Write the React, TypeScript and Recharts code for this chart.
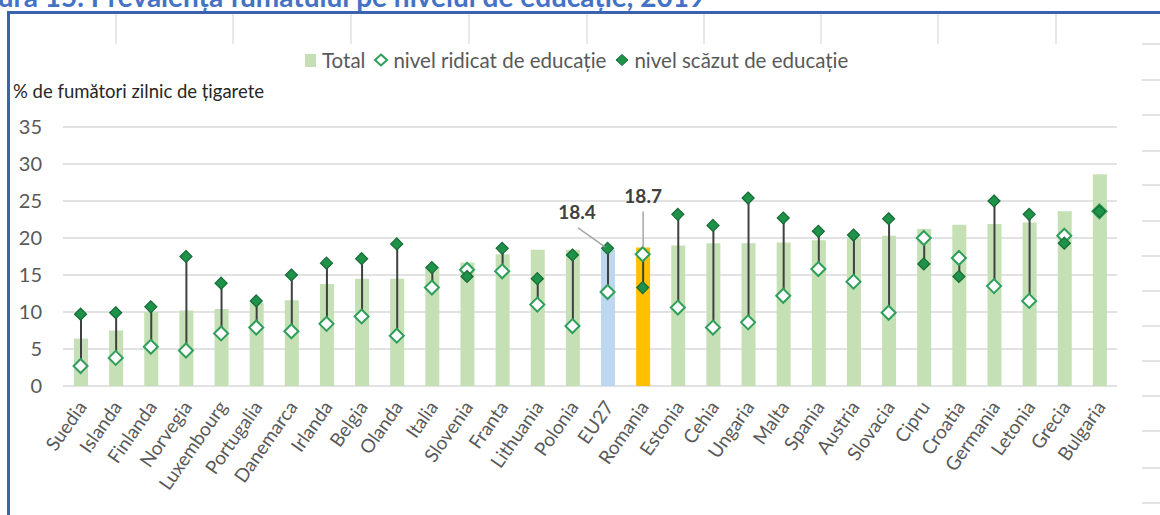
import React from "react";
import {
  ComposedChart,
  Bar,
  Line,
  Cell,
  XAxis,
  YAxis,
  CartesianGrid,
  LabelList,
} from "recharts";

const COUNTRIES = [
  "Suedia", "Islanda", "Finlanda", "Norvegia", "Luxembourg", "Portugalia",
  "Danemarca", "Irlanda", "Belgia", "Olanda", "Italia", "Slovenia", "Franta",
  "Lithuania", "Polonia", "EU27", "Romania", "Estonia", "Cehia", "Ungaria",
  "Malta", "Spania", "Austria", "Slovacia", "Cipru", "Croatia", "Germania",
  "Letonia", "Grecia", "Bulgaria",
];

const TOTAL = [
  6.4, 7.5, 10.0, 10.2, 10.4, 11.2, 11.6, 13.8, 14.5, 14.5, 16.1, 16.7, 17.8,
  18.4, 18.4, 18.4, 18.7, 19.0, 19.3, 19.3, 19.4, 19.7, 20.1, 20.3, 21.2, 21.8,
  21.9, 22.1, 23.6, 28.6,
];

// nivel ridicat de educatie (hollow diamonds)
const HIGH_EDU = [
  2.7, 3.8, 5.3, 4.8, 7.1, 7.9, 7.4, 8.4, 9.4, 6.8, 13.3, 15.7, 15.5, 11.0,
  8.1, 12.7, 17.8, 10.6, 7.9, 8.6, 12.2, 15.8, 14.1, 9.9, 20.0, 17.3, 13.5,
  11.5, 20.3, 23.6,
];

// nivel scazut de educatie (filled diamonds)
const LOW_EDU = [
  9.7, 9.9, 10.7, 17.5, 13.9, 11.5, 15.0, 16.6, 17.2, 19.2, 16.0, 14.8, 18.6,
  14.5, 17.7, 18.6, 13.3, 23.2, 21.7, 25.4, 22.7, 20.9, 20.4, 22.6, 16.5, 14.8,
  25.0, 23.2, 19.3, 23.6,
];

const Y_TICKS = [0, 5, 10, 15, 20, 25, 30, 35];

const data = COUNTRIES.map((name, i) => ({
  name,
  total: TOTAL[i],
  high: HIGH_EDU[i],
  low: LOW_EDU[i],
  range: [Math.min(HIGH_EDU[i], LOW_EDU[i]), Math.max(HIGH_EDU[i], LOW_EDU[i])],
}));

const FONT = "Lato, 'Open Sans', sans-serif";
const TEXT = "#595959";
const BAR = "#C5E0B4";

const barColor = (name: string) =>
  name === "EU27" ? "#BDD7EE" : name === "Romania" ? "#FFC000" : BAR;

const HollowDiamond = (props: any) => {
  const { cx, cy, index } = props;
  if (cx == null || cy == null) return <g key={`h-${index}`} />;
  const r = 7;
  return (
    <path
      key={`h-${index}`}
      d={`M${cx},${cy - r}L${cx + r},${cy}L${cx},${cy + r}L${cx - r},${cy}Z`}
      fill="#fff"
      stroke="#2E9E5B"
      strokeWidth={2}
    />
  );
};

const FilledDiamond = (props: any) => {
  const { cx, cy, index } = props;
  if (cx == null || cy == null) return <g key={`l-${index}`} />;
  const r = 6;
  return (
    <path
      key={`l-${index}`}
      d={`M${cx},${cy - r}L${cx + r},${cy}L${cx},${cy + r}L${cx - r},${cy}Z`}
      fill="#1E9249"
      stroke="#176B36"
      strokeWidth={1.2}
    />
  );
};

const XTick = (props: any) => {
  const { x, y, payload } = props;
  return (
    <g transform={`translate(${x + 7},${y + 13})`}>
      <text
        textAnchor="end"
        transform="rotate(-55)"
        fill={TEXT}
        fontSize={19}
        fontFamily={FONT}
      >
        {payload.value}
      </text>
    </g>
  );
};

// callouts for EU27 and Romania
const Callout = (props: any) => {
  const { x, y, width, value, index } = props;
  const name = COUNTRIES[index];
  if (name !== "EU27" && name !== "Romania") return null;
  const cx = x + width / 2;
  if (name === "EU27") {
    return (
      <g>
        <line x1={cx - 30} y1={y - 22} x2={cx - 3} y2={y - 3} stroke="#a6a6a6" strokeWidth={1.5} />
        <text x={cx - 31} y={y - 31} textAnchor="middle" fill="#404040" fontSize={19} fontWeight={700} fontFamily={FONT}>
          {value}
        </text>
      </g>
    );
  }
  return (
    <g>
      <line x1={cx} y1={y - 36} x2={cx} y2={y - 1} stroke="#a6a6a6" strokeWidth={1.5} />
      <text x={cx} y={y - 45} textAnchor="middle" fill="#404040" fontSize={19} fontWeight={700} fontFamily={FONT}>
        {value}
      </text>
    </g>
  );
};

const CELL_LINES_X = [115, 232, 350, 468, 586, 703, 820, 937, 1055];
const SIDE_LINES_Y = [43, 79, 114, 150, 184, 220, 255, 290, 325, 360, 395, 430, 467, 502];

export default function App() {
  return (
    <div
      style={{
        position: "absolute",
        left: 0,
        top: 0,
        width: 1160,
        height: 515,
        overflow: "hidden",
        background: "#fff",
        fontFamily: FONT,
      }}
    >
      {/* clipped figure title */}
      <div
        style={{
          position: "absolute",
          left: -40,
          top: -18,
          fontSize: 28,
          fontWeight: 700,
          color: "#4472C4",
          whiteSpace: "nowrap",
          lineHeight: "28px",
        }}
      >
        Figura 15. Prevalența fumatului pe nivelul de educație, 2019
      </div>

      {/* sheet cell lines */}
      {CELL_LINES_X.map((x) => (
        <div key={x} style={{ position: "absolute", left: x, top: 14, width: 1.5, height: 30, background: "#e8e8e8" }} />
      ))}
      {SIDE_LINES_Y.map((y) => (
        <div key={y} style={{ position: "absolute", left: 1142, top: y, width: 18, height: 1.5, background: "#e3e3e3" }} />
      ))}

      {/* frame */}
      <div style={{ position: "absolute", left: 7, top: 11, width: 1160, height: 2.5, background: "#3A62AE" }} />
      <div style={{ position: "absolute", left: 7, top: 11, width: 2.5, height: 520, background: "#3A62AE" }} />

      {/* legend */}
      <div
        style={{
          position: "absolute",
          left: 305,
          top: 48,
          display: "flex",
          alignItems: "center",
          fontSize: 20.5,
          lineHeight: "24px",
          color: TEXT,
          whiteSpace: "nowrap",
        }}
      >
        <span style={{ display: "inline-block", width: 11, height: 13, background: BAR, marginRight: 6 }} />
        <span>Total</span>
        <svg width={16} height={14} style={{ marginLeft: 8, marginRight: 4 }}>
          <path d="M8,1.5L14,7L8,12.5L2,7Z" fill="#fff" stroke="#2E9E5B" strokeWidth={2} />
        </svg>
        <span>nivel ridicat de educație</span>
        <svg width={16} height={14} style={{ marginLeft: 8, marginRight: 4 }}>
          <path d="M8,1.5L14,7L8,12.5L2,7Z" fill="#1E9249" stroke="#176B36" strokeWidth={1} />
        </svg>
        <span>nivel scăzut de educație</span>
      </div>

      {/* y-axis title */}
      <div style={{ position: "absolute", left: 13, top: 80, fontSize: 18.5, color: "#262626", whiteSpace: "nowrap" }}>
        % de fumători zilnic de țigarete
      </div>

      <div style={{ position: "absolute", left: 0, top: 0 }}>
        <ComposedChart
          width={1160}
          height={515}
          data={data}
          margin={{ top: 127, right: 43, bottom: 99, left: 0 }}
        >
          <CartesianGrid vertical={false} stroke="#d9d9d9" strokeWidth={1.5} />
          <XAxis
            xAxisId="main"
            dataKey="name"
            interval={0}
            height={30}
            axisLine={false}
            tickLine={false}
            tick={<XTick />}
          />
          <XAxis xAxisId="range" dataKey="name" hide />
          <YAxis
            domain={[0, 35]}
            ticks={Y_TICKS}
            width={63}
            axisLine={false}
            tickLine={false}
            tickMargin={15}
            tick={{ fill: TEXT, fontSize: 20, fontFamily: FONT }}
          />
          <Bar xAxisId="main" dataKey="total" barSize={14} isAnimationActive={false}>
            {data.map((d) => (
              <Cell key={d.name} fill={barColor(d.name)} />
            ))}
            <LabelList dataKey="total" content={<Callout />} />
          </Bar>
          <Bar xAxisId="range" dataKey="range" barSize={2} fill="#404040" isAnimationActive={false} />
          <Line
            xAxisId="main"
            dataKey="high"
            stroke="none"
            dot={HollowDiamond}
            activeDot={false}
            isAnimationActive={false}
          />
          <Line
            xAxisId="main"
            dataKey="low"
            stroke="none"
            dot={FilledDiamond}
            activeDot={false}
            isAnimationActive={false}
          />
        </ComposedChart>
      </div>
    </div>
  );
}
